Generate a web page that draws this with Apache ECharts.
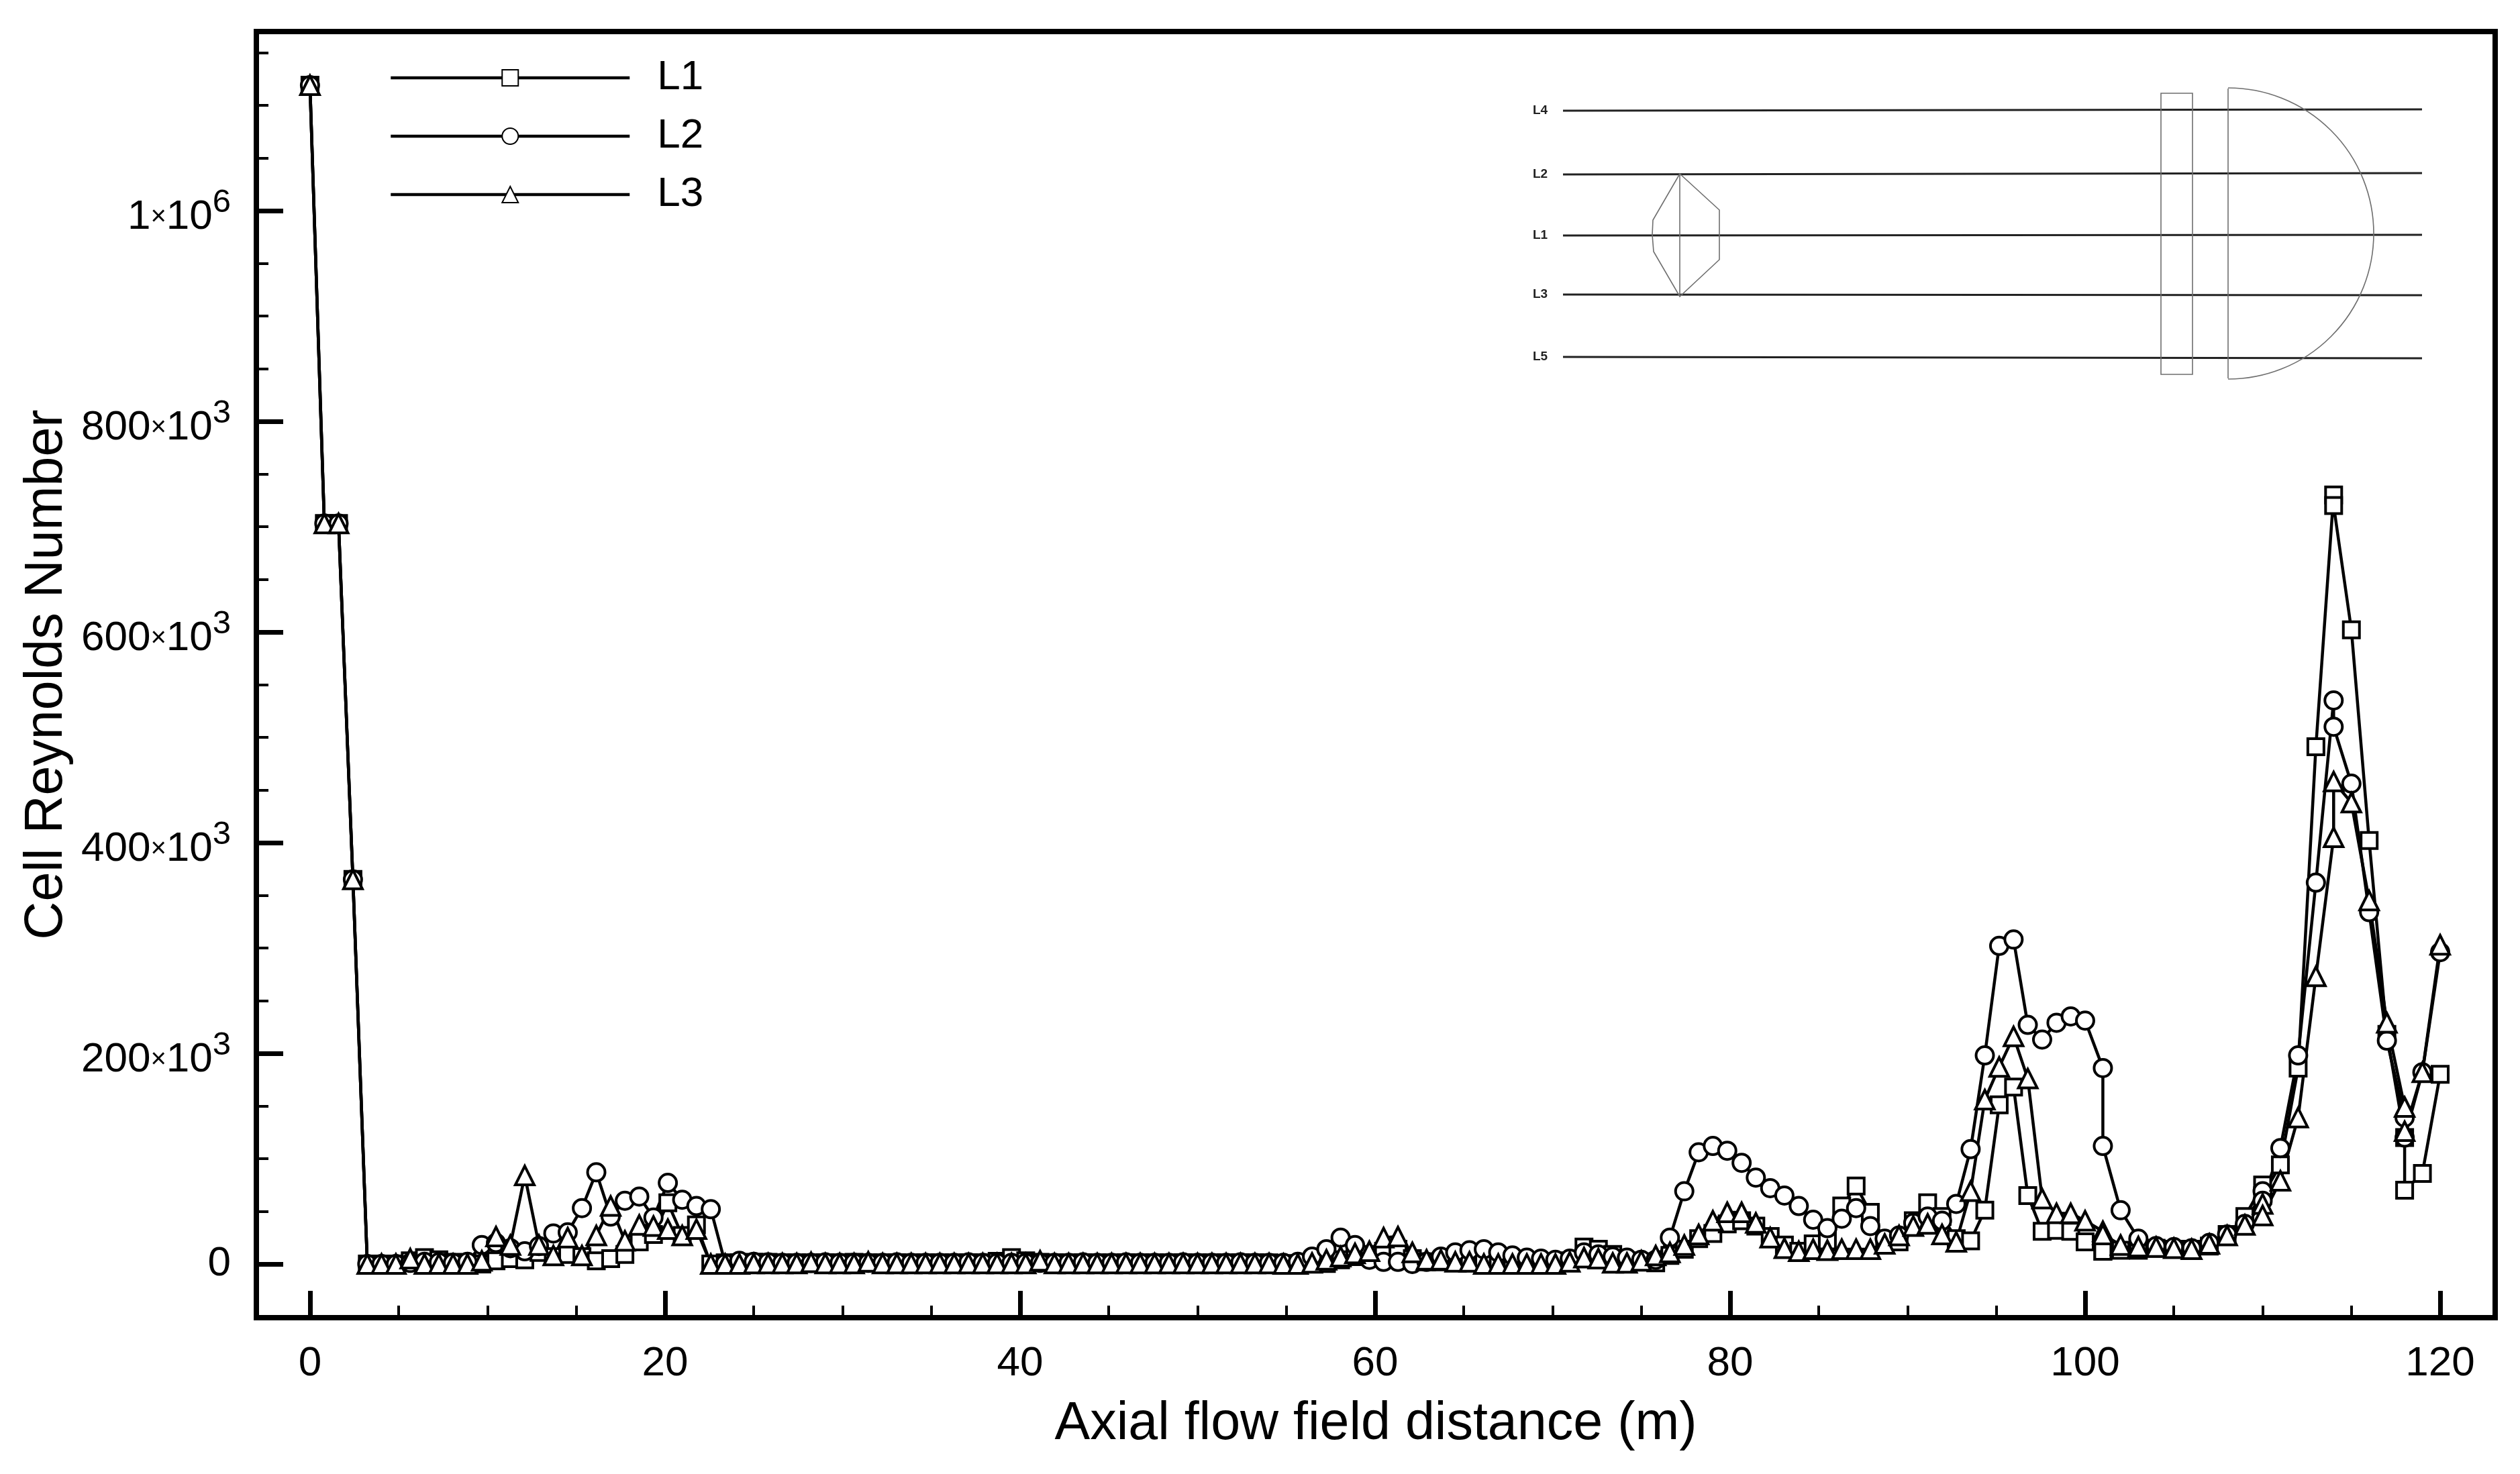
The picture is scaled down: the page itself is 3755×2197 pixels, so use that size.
<!DOCTYPE html>
<html>
<head>
<meta charset="utf-8">
<script src="https://cdn.jsdelivr.net/npm/echarts@6/dist/echarts.min.js"></script>
<style>
  html, body { margin: 0; padding: 0; background: #fff; }
  #chart { width: 3755px; height: 2197px; }
</style>
</head>
<body>
<div id="chart"></div>
<script>
// axial position of every sample (m); the mesh repeats a station at 101, 110, 114 and 118
const axialX = [
  0, 0.81, 1.61, 2.42, 3.23, 4.03, 4.84, 5.65, 6.45, 7.26,
  8.06, 8.87, 9.68, 10.48, 11.29, 12.1, 12.9, 13.71, 14.52, 15.32,
  16.13, 16.94, 17.74, 18.55, 19.35, 20.16, 20.97, 21.77, 22.58, 23.39,
  24.19, 25, 25.81, 26.61, 27.42, 28.23, 29.03, 29.84, 30.65, 31.45,
  32.26, 33.06, 33.87, 34.68, 35.48, 36.29, 37.1, 37.9, 38.71, 39.52,
  40.32, 41.13, 41.94, 42.74, 43.55, 44.35, 45.16, 45.97, 46.77, 47.58,
  48.39, 49.19, 50, 50.81, 51.61, 52.42, 53.23, 54.03, 54.84, 55.65,
  56.45, 57.26, 58.06, 58.87, 59.68, 60.48, 61.29, 62.1, 62.9, 63.71,
  64.52, 65.32, 66.13, 66.94, 67.74, 68.55, 69.35, 70.16, 70.97, 71.77,
  72.58, 73.39, 74.19, 75, 75.81, 76.61, 77.42, 78.23, 79.03, 79.84,
  80.65, 81.45, 82.26, 83.06, 83.87, 84.68, 85.48, 86.29, 87.1, 87.9,
  88.71, 89.52, 90.32, 91.13, 91.94, 92.74, 93.55, 94.35, 95.16, 95.97,
  96.77, 97.58, 98.39, 99.19, 100,
  101, 101, 102, 103, 104, 105, 106, 107, 108, 109,
  110, 110, 111, 112, 113, 114, 114, 115, 116, 117,
  118, 118, 119, 120
]

// Cell Reynolds number, in units of 10^3
const l1Values = [
  1119, 703, 703, 365, 0, 0, 0, 3, 6, 4,
  1.5, 0.5, 0, 3, 5, 4, 11, 7, 9, 7,
  3, 5, 9, 21, 28, 58, 27, 37, 0, 1,
  1, 1.5, 1.5, 1, 1, 1, 1, 1, 1.5, 1,
  1, 1, 1, 1, 1, 1, 1, 1, 2.5, 6,
  3, 1.5, 1, 1, 1, 1, 1, 1, 1, 1,
  1, 1, 1, 1, 1, 1, 1, 1, 0, 0.5,
  1, 0.5, 4, 7, 9, 12, 14, 5, 2, 2,
  1.5, 1, 1, 1, 1, 1, 1, 1, 3, 16,
  14, 9, 3, 2, 1, 8, 14, 24, 29, 38,
  41, 36, 26, 18, 12, 19, 22, 55, 74, 49,
  21, 21, 41, 58, 45, 24, 22, 51, 151, 168,
  65, 31, 32, 31, 21,
  12, 12, 13, 13, 15, 14, 14, 17, 28, 45,
  75, 65, 94, 186, 491, 730, 720, 602, 402, 218,
  120, 70, 86, 180
]
const l2Values = [
  1119, 703, 703, 365, 0, 0, 0, 1, 2, 1.5,
  1, 2, 18, 20, 15, 12, 17, 29, 30, 53,
  87, 45, 60, 64, 44, 77, 61, 55, 52, 0.5,
  3, 2, 1.5, 1, 1, 1, 1.5, 1, 1, 1,
  1, 1.5, 1, 1, 1, 1, 1.5, 1, 1, 1,
  1, 1, 1, 1, 1.5, 1, 1, 1.5, 1, 1,
  1, 1.5, 1, 1, 1, 1.5, 1, 1, 1, 2,
  7, 14, 25, 18, 4, 2, 2, 0, 2, 7,
  11, 13, 14, 11, 8, 6, 5, 4, 5, 11,
  9, 7, 6, 4, 4, 25, 69, 106, 112, 107.5,
  96, 82, 72, 65, 55, 42, 34, 43, 53, 36,
  24, 27, 39, 45, 41, 57, 109, 198, 302, 308,
  227, 213, 229, 235, 231,
  186, 112, 51, 24, 17, 16, 15, 20, 28, 38,
  69, 60, 110, 198, 362, 535, 510, 456, 334, 212,
  139, 120, 182, 296
]
const l3Values = [
  1119, 703, 703, 365, 0, 0, 0, 5, 0, 0,
  0, 0, 3, 26, 18, 84, 18, 8, 25, 8,
  27, 55, 22, 37, 36, 33, 27, 33, 0, 0,
  0, 0.5, 0.5, 0.5, 0.5, 1.5, 0.5, 0.5, 0.5, 2,
  0.5, 0.5, 0.5, 0.5, 0.5, 0.5, 0.5, 0.5, 0.5, 0.5,
  0.5, 3, 0.5, 0.5, 0.5, 0.5, 0.5, 0.5, 0.5, 0.5,
  0.5, 0.5, 0.5, 0.5, 0.5, 0.5, 0.5, 0.5, 0, 0,
  1, 4, 7, 10, 12, 25, 26, 11, 4, 4,
  2, 2, 0, 0, 0, 0, 0, 0, 2, 6,
  5, 1, 1, 3, 8, 11, 18, 28, 41, 49,
  49, 39, 25, 15, 12, 14, 13, 14, 14, 14,
  19, 27, 36, 38, 28, 21, 69, 156, 187, 216,
  176, 62, 48, 48, 41,
  31, 28, 18, 16.5, 16, 15, 14, 19, 27, 37,
  57, 46, 79, 139, 273, 405, 458, 438, 345, 229,
  149, 126, 182, 303
]

const xMajorTicks = [0, 20, 40, 60, 80, 100, 120]
const xMinorTicks = [5, 10, 15, 25, 30, 35, 45, 50, 55, 65, 70, 75, 85, 90, 95, 105, 110, 115]
const yMajorTicks = [0, 200, 400, 600, 800, 1000]
const yMinorTicks = [50, 100, 150, 250, 300, 350, 450, 500, 550, 650, 700, 750, 850, 900, 950, 1050, 1100, 1150]
const insetRays = ['L4', 'L2', 'L1', 'L3', 'L5']

const FONT = '"Liberation Sans", Arial, sans-serif'
const X_RANGE = { min: -3.02, max: 123.1 }
const Y_RANGE = { min: -51, max: 1170 }

const yLabel = (v) => {
  if (v === 0) return '0'
  if (v === 1000) return '{n|1}{x|×}{n|10}{s|6}'
  return '{n|' + v + '}{x|×}{n|10}{s|3}'
}

const makeSeries = (name, values, symbol, symbolSize) => ({
  name,
  type: 'line',
  xAxisIndex: 0,
  yAxisIndex: 0,
  data: axialX.map((x, i) => [x, values[i]]),
  symbol,
  symbolSize,
  showSymbol: true,
  showAllSymbol: true,
  clip: false,
  lineStyle: { color: '#000', width: 4.5 },
  itemStyle: { color: '#fff', borderColor: '#000', borderWidth: 4 },
  emphasis: { disabled: true },
})

// schematic of the lens, window and dome with the probe lines, top right
const insetStroke = { stroke: '#6e6e6e', lineWidth: 1.6, fill: null }
const rayStroke = { stroke: '#222', lineWidth: 3 }
const insetGraphic = [
  { type: 'line', shape: { x1: 2329, y1: 165, x2: 3609, y2: 163 }, style: rayStroke },
  { type: 'line', shape: { x1: 2329, y1: 260, x2: 3609, y2: 258 }, style: rayStroke },
  { type: 'line', shape: { x1: 2329, y1: 351, x2: 3609, y2: 350 }, style: rayStroke },
  { type: 'line', shape: { x1: 2329, y1: 439, x2: 3609, y2: 440 }, style: rayStroke },
  { type: 'line', shape: { x1: 2329, y1: 532, x2: 3609, y2: 534 }, style: rayStroke },
  {
    type: 'polygon',
    shape: {
      points: [[2503, 259], [2562, 313], [2562, 387], [2503, 442], [2464, 375], [2462, 350], [2463, 328]],
    },
    style: insetStroke,
  },
  { type: 'line', shape: { x1: 2503, y1: 259, x2: 2503, y2: 442 }, style: insetStroke },
  { type: 'rect', shape: { x: 3220, y: 139, width: 47, height: 419 }, style: insetStroke },
  { type: 'line', shape: { x1: 3320, y1: 132, x2: 3320, y2: 564 }, style: insetStroke },
  {
    type: 'arc',
    shape: { cx: 3320, cy: 348, r: 217, startAngle: -Math.PI / 2, endAngle: Math.PI / 2 },
    style: insetStroke,
  },
]
const insetLabelY = [165, 260, 351, 439, 532]
insetRays.forEach((name, i) => {
  insetGraphic.push({
    type: 'text',
    x: 2295,
    y: insetLabelY[i],
    style: {
      text: name,
      font: 'bold 19px ' + FONT,
      fill: '#222',
      align: 'center',
      verticalAlign: 'middle',
    },
  })
})

const chart = echarts.init(document.getElementById('chart'), null, { renderer: 'canvas' })

chart.setOption({
  animation: false,
  backgroundColor: '#fff',
  textStyle: { fontFamily: FONT, color: '#000' },
  grid: {
    left: 382,
    top: 47,
    right: 37,
    bottom: 233,
    show: true,
    borderColor: '#000',
    borderWidth: 8,
    outerBoundsMode: 'none',
  },
  legend: {
    left: 580,
    top: 77,
    padding: 0,
    orient: 'vertical',
    itemWidth: 356,
    itemHeight: 30,
    itemGap: 9,
    selectedMode: false,
    lineStyle: { color: '#000', width: 4.5 },
    textStyle: {
      fontFamily: FONT,
      fontSize: 62,
      color: '#000',
      lineHeight: 72,
      padding: [6, 0, 0, 36],
    },
    data: ['L1', 'L2', 'L3'],
  },
  xAxis: [
    {
      type: 'value',
      ...X_RANGE,
      position: 'bottom',
      name: 'Axial flow field distance (m)',
      nameLocation: 'middle',
      nameGap: 120,
      nameTextStyle: { fontFamily: FONT, fontSize: 79, color: '#000' },
      splitLine: { show: false },
      axisLine: { show: false, onZero: false },
      axisTick: {
        show: true,
        inside: true,
        length: 40,
        lineStyle: { color: '#000', width: 7 },
        customValues: xMajorTicks,
      },
      axisLabel: {
        show: true,
        margin: 38,
        fontFamily: FONT,
        fontSize: 62,
        color: '#000',
        customValues: xMajorTicks,
      },
    },
    {
      type: 'value',
      ...X_RANGE,
      position: 'bottom',
      splitLine: { show: false },
      axisLine: { show: false, onZero: false },
      axisLabel: { show: false },
      axisTick: {
        show: true,
        inside: true,
        length: 18,
        lineStyle: { color: '#000', width: 4 },
        customValues: xMinorTicks,
      },
    },
  ],
  yAxis: [
    {
      type: 'value',
      ...Y_RANGE,
      position: 'left',
      name: 'Cell Reynolds Number',
      nameLocation: 'middle',
      nameGap: 264,
      nameTextStyle: { fontFamily: FONT, fontSize: 79, color: '#000' },
      splitLine: { show: false },
      axisLine: { show: false, onZero: false },
      axisTick: {
        show: true,
        inside: true,
        length: 40,
        lineStyle: { color: '#000', width: 7 },
        customValues: yMajorTicks,
      },
      axisLabel: {
        show: true,
        margin: 38,
        fontFamily: FONT,
        color: '#000',
        fontSize: 62,
        customValues: yMajorTicks,
        formatter: yLabel,
        rich: {
          n: { fontFamily: FONT, fontSize: 62, color: '#000', lineHeight: 72, padding: [20, 0, 0, 0] },
          x: { fontFamily: FONT, fontSize: 40, color: '#000', lineHeight: 72, padding: [20, 0, 0, 0] },
          s: {
            fontFamily: FONT,
            fontSize: 49,
            color: '#000',
            lineHeight: 68,
            verticalAlign: 'top',
          },
        },
      },
    },
    {
      type: 'value',
      ...Y_RANGE,
      position: 'left',
      splitLine: { show: false },
      axisLine: { show: false, onZero: false },
      axisLabel: { show: false },
      axisTick: {
        show: true,
        inside: true,
        length: 18,
        lineStyle: { color: '#000', width: 4 },
        customValues: yMinorTicks,
      },
    },
  ],
  series: [
    makeSeries('L1', l1Values, 'rect', 24),
    makeSeries('L2', l2Values, 'circle', 26),
    makeSeries('L3', l3Values, 'triangle', 28),
  ],
  graphic: insetGraphic,
})
</script>
</body>
</html>
